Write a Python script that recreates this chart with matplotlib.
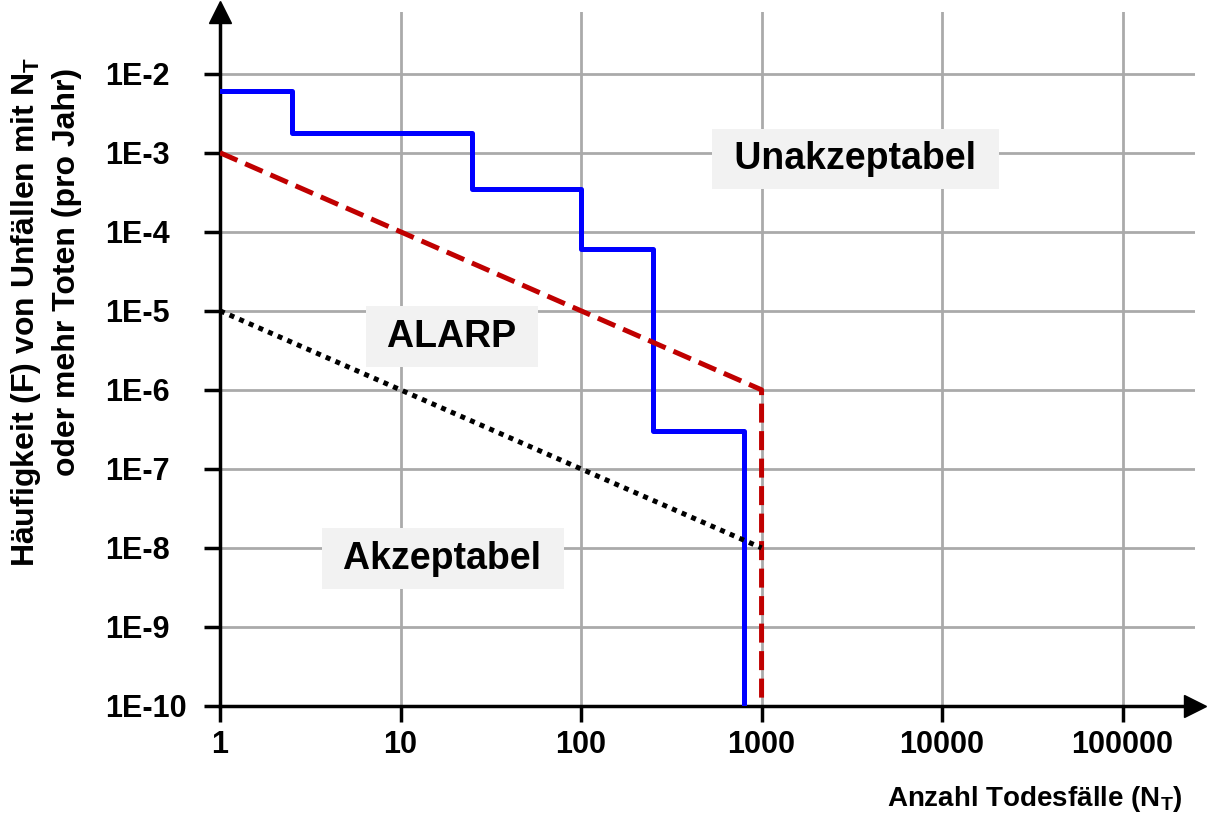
import matplotlib.pyplot as plt

plt.rcParams['font.family'] = ['Liberation Sans', 'DejaVu Sans']
plt.rcParams['font.weight'] = 'bold'
plt.rcParams['mathtext.fontset'] = 'custom'
plt.rcParams['mathtext.rm'] = 'Liberation Sans:bold'
plt.rcParams['mathtext.bf'] = 'Liberation Sans:bold'

# FN curve of the plant (step line)
step_n = [1, 2.5, 2.5, 25, 25, 100, 100, 250, 250, 800, 800]
step_f = [6e-3, 6e-3, 1.8e-3, 1.8e-3, 3.5e-4, 3.5e-4, 6e-5, 6e-5, 3e-7, 3e-7, 1e-10]
# upper limit (unacceptable above)
upper_n = [1, 1000, 1000]
upper_f = [1e-3, 1e-6, 1e-10]
# lower limit (acceptable below)
lower_n = [1, 1000]
lower_f = [1e-5, 1e-8]

x_ticks = [1, 10, 100, 1000, 10000, 100000]
x_labels = ["1", "10", "100", "1000", "10000", "100000"]
y_ticks = [1e-2, 1e-3, 1e-4, 1e-5, 1e-6, 1e-7, 1e-8, 1e-9, 1e-10]
y_labels = ["1E-2", "1E-3", "1E-4", "1E-5", "1E-6", "1E-7", "1E-8", "1E-9", "1E-10"]

regions = ["Unakzeptabel", "ALARP", "Akzeptabel"]
region_x = [3300, 19.3, 17.2]
region_y = [8.3e-4, 4.7e-6, 7.3e-9]

fig = plt.figure(figsize=(12.08, 8.14), dpi=100)
ax = fig.add_axes([0.1821, 0.1327, 0.807, 0.853])
ax.set_xscale("log")
ax.set_yscale("log")
ax.set_xlim(1, 10 ** 5.4)
ax.set_ylim(1e-10, 10 ** -1.215)

# grid
for xv in x_ticks:
    ax.axvline(xv, color="#aaaaaa", lw=2, zorder=0)
for yv in y_ticks:
    ax.axhline(yv, color="#aaaaaa", lw=2, zorder=0)

ax.plot(step_n, step_f, color="#0000ff", lw=3.6, zorder=3)
ax.plot(upper_n, upper_f, color="#c00000", lw=3.6, dashes=(3.8, 1.7), zorder=4)
ax.plot(lower_n, lower_f, color="black", lw=3.6, dashes=(1, 1.1), zorder=4)

for txt, xv, yv in zip(regions, region_x, region_y):
    ax.text(xv, yv, " " + txt + " ", fontsize=27, fontweight="bold", ha="center", va="center",
            bbox=dict(facecolor="#f2f2f2", edgecolor="none", pad=9), zorder=5)

ax.set_xticks(x_ticks)
ax.set_xticklabels(x_labels)
ax.set_yticks(y_ticks)
ax.set_yticklabels(y_labels)
ax.minorticks_off()
ax.tick_params(direction="out", length=11.5, width=2.5, labelsize=22)
ax.tick_params(axis="x", pad=6)
ax.tick_params(axis="y", pad=71)
for lab in ax.get_yticklabels():
    lab.set_horizontalalignment("left")

for s in ["top", "right"]:
    ax.spines[s].set_visible(False)
for s in ["left", "bottom"]:
    ax.spines[s].set_linewidth(2.5)

# arrow heads on the axes
ax.plot(1, 0, ">k", ms=16, transform=ax.transAxes, clip_on=False)
ax.plot(0, 1, "^k", ms=16, transform=ax.transAxes, clip_on=False)

fig.text(1183 / 1208, 1 - 799 / 814, r"Anzahl Todesfälle (N$_\mathbf{T}$)",
         fontsize=20, fontweight="bold", ha="right", va="center")
fig.text(26 / 1208, 1 - 312 / 814, "Häufigkeit (F) von Unfällen mit N$_\\mathbf{T}$",
         fontsize=23, fontweight="bold", rotation=90, ha="center", va="center")
fig.text(67 / 1208, 1 - 272 / 814, "oder mehr Toten (pro Jahr)",
         fontsize=23, fontweight="bold", rotation=90, ha="center", va="center")

fig.savefig("out.png", dpi=100)
